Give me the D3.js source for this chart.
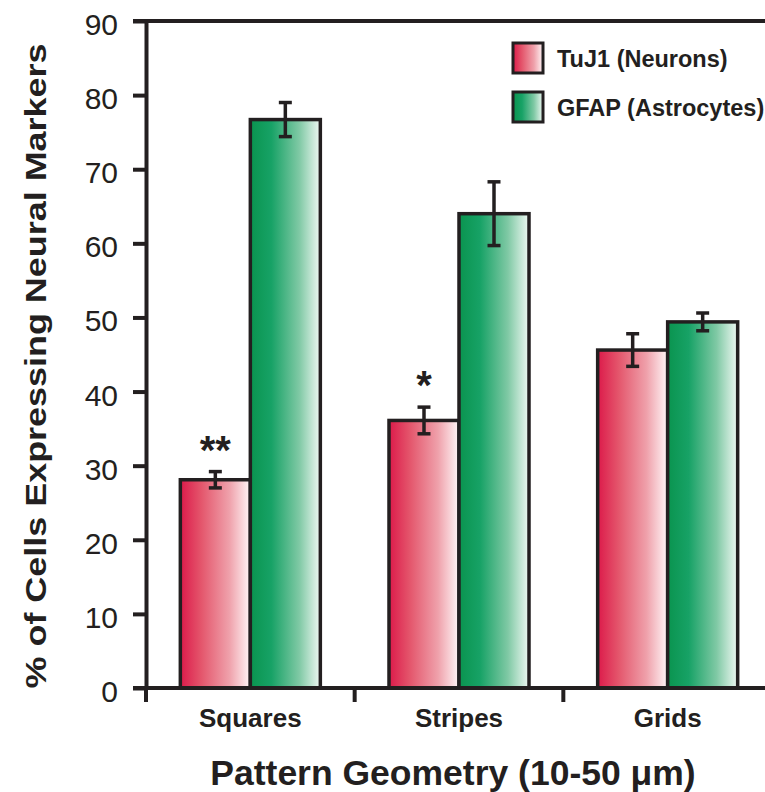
<!DOCTYPE html>
<html>
<head>
<meta charset="utf-8">
<script src="https://cdn.jsdelivr.net/npm/d3@7"></script>
<style>
  body { margin: 0; background: #fff; }
  svg { display: block; font-family: "Liberation Sans", Arial, Helvetica, sans-serif; }
</style>
</head>
<body>
<div id="chart"></div>
<script>
// data
const categories = ['Squares', 'Stripes', 'Grids'];
const seriesNames = ['TuJ1 (Neurons)', 'GFAP (Astrocytes)'];
const tuj1Values = [28.1, 36.1, 45.6];
const tuj1Errors = [1.1, 1.8, 2.2];
const gfapValues = [76.7, 64.0, 49.4];
const gfapErrors = [2.3, 4.3, 1.2];
const significance = ['**', '*', ''];
const yTicks = [0, 10, 20, 30, 40, 50, 60, 70, 80, 90];

const dims = {
    'width': 765,
    'height': 792,
    'left': 146,
    'top': 21,
    'bottom': 688
};
const ink = '#231f20';

const rows = categories.map((c, i) => ({
    cat: c,
    sig: significance[i],
    bars: [
        {key: 'tuj1', value: tuj1Values[i], err: tuj1Errors[i]},
        {key: 'gfap', value: gfapValues[i], err: gfapErrors[i]}
    ]
}));

const svg = d3.select('#chart')
                .append('svg')
                .attr('width', dims.width)
                .attr('height', dims.height);

// gradients, saturated on the left fading to white
const defs = svg.append('defs');
const gradStops = {
    'tuj1': [[0, '#dc1a4a'], [0.3, '#e4566c'], [0.7, '#efa1ab'], [1, '#fff6f7']],
    'gfap': [[0, '#0a944f'], [0.3, '#17a266'], [0.7, '#80c9a5'], [1, '#eff8f3']]
};
Object.keys(gradStops).forEach(k => {
    const g = defs.append('linearGradient')
                .attr('id', 'grad-' + k)
                .attr('x1', '0%').attr('x2', '100%')
                .attr('y1', '0%').attr('y2', '0%');
    gradStops[k].forEach(s => {
        g.append('stop').attr('offset', s[0]).attr('stop-color', s[1]);
    });
});

const y = d3.scaleLinear().domain([0, 90]).range([dims.bottom, dims.top]);
const x = d3.scaleBand().domain(categories).range([dims.left, 772]);
const xSub = d3.scaleBand().domain(['tuj1', 'gfap']).range([0, 140]);

// bars
const groups = svg.selectAll('.grp')
    .data(rows)
    .enter()
    .append('g')
    .attr('class', 'grp')
    .attr('transform', d => `translate(${x(d.cat) + x.bandwidth()/2 - 70},0)`);

groups.selectAll('.bar')
    .data(d => d.bars)
    .enter()
    .append('rect')
    .attr('class', 'bar')
    .attr('x', d => xSub(d.key))
    .attr('width', xSub.bandwidth())
    .attr('y', d => y(d.value))
    .attr('height', d => y(0) - y(d.value))
    .attr('fill', d => `url(#grad-${d.key})`)
    .attr('stroke', ink)
    .attr('stroke-width', 3.5);

// error bars
const capHalf = 6.5;
const errs = groups.selectAll('.err')
    .data(d => d.bars)
    .enter()
    .append('g')
    .attr('class', 'err')
    .attr('transform', d => `translate(${xSub(d.key) + xSub.bandwidth()/2},0)`);

errs.append('line')
    .attr('y1', d => y(d.value + d.err))
    .attr('y2', d => y(d.value - d.err));
errs.append('line')
    .attr('x1', -capHalf).attr('x2', capHalf)
    .attr('y1', d => y(d.value + d.err))
    .attr('y2', d => y(d.value + d.err));
errs.append('line')
    .attr('x1', -capHalf).attr('x2', capHalf)
    .attr('y1', d => y(d.value - d.err))
    .attr('y2', d => y(d.value - d.err));
errs.selectAll('line')
    .attr('stroke', ink)
    .attr('stroke-width', 3.5);

// significance stars over the TuJ1 bar
groups.append('text')
    .text(d => d.sig)
    .attr('x', xSub('tuj1') + xSub.bandwidth()/2)
    .attr('y', d => y(d.bars[0].value + d.bars[0].err) - 8)
    .attr('text-anchor', 'middle')
    .attr('font-size', 40)
    .attr('font-weight', 'bold')
    .attr('fill', ink);

// y axis
const yAxis = svg.append('g')
    .attr('class', 'y-axis')
    .attr('transform', `translate(${dims.left},0)`)
    .call(d3.axisLeft(y).tickValues(yTicks).tickSize(13).tickSizeOuter(0).tickPadding(15));
yAxis.select('.domain').attr('stroke', ink).attr('stroke-width', 4);
yAxis.selectAll('.tick line').attr('stroke', ink).attr('stroke-width', 4);
yAxis.selectAll('.tick text')
    .attr('font-size', 30)
    .attr('font-family', '"Liberation Sans", Arial, sans-serif')
    .attr('dy', '0.45em')
    .attr('fill', ink);

// top frame line and baseline run to the right edge
svg.append('line')
    .attr('x1', dims.left - 13).attr('x2', dims.width)
    .attr('y1', y(90)).attr('y2', y(90))
    .attr('stroke', ink).attr('stroke-width', 4);

// x axis: ticks sit between the groups
const xAxis = svg.append('g')
    .attr('class', 'x-axis')
    .attr('transform', `translate(0,${y(0)})`);
xAxis.append('line')
    .attr('x1', dims.left - 13).attr('x2', dims.width)
    .attr('stroke', ink).attr('stroke-width', 4);
xAxis.selectAll('.xtick')
    .data(categories)
    .enter()
    .append('line')
    .attr('class', 'xtick')
    .attr('x1', d => x(d)).attr('x2', d => x(d))
    .attr('y1', 0).attr('y2', 14)
    .attr('stroke', ink).attr('stroke-width', 4);
xAxis.selectAll('.xlabel')
    .data(categories)
    .enter()
    .append('text')
    .attr('class', 'xlabel')
    .text(d => d)
    .attr('x', d => x(d) + x.bandwidth()/2)
    .attr('y', 39)
    .attr('text-anchor', 'middle')
    .attr('font-size', 26)
    .attr('font-weight', 'bold')
    .attr('fill', ink);

// axis titles
svg.append('text')
    .text('Pattern Geometry (10-50 \u03bcm)')
    .attr('x', 453)
    .attr('y', 785)
    .attr('text-anchor', 'middle')
    .attr('font-size', 35.5)
    .attr('font-weight', 'bold')
    .attr('fill', ink);

svg.append('text')
    .text('% of Cells Expressing Neural Markers')
    .attr('transform', 'translate(46,366) rotate(-90)')
    .attr('text-anchor', 'middle')
    .attr('font-size', 29)
    .attr('font-weight', 'bold')
    .attr('textLength', 645)
    .attr('lengthAdjust', 'spacingAndGlyphs')
    .attr('fill', ink);

// legend
const legend = svg.append('g')
    .attr('class', 'legend')
    .attr('transform', 'translate(513,43)');
const legendItems = legend.selectAll('.item')
    .data(['tuj1', 'gfap'])
    .enter()
    .append('g')
    .attr('class', 'item')
    .attr('transform', (_, i) => `translate(0,${i*49})`);
legendItems.append('rect')
    .attr('width', 30)
    .attr('height', 30)
    .attr('fill', d => `url(#grad-${d})`)
    .attr('stroke', ink)
    .attr('stroke-width', 3);
legendItems.append('text')
    .text((_, i) => seriesNames[i])
    .attr('x', 44)
    .attr('y', 24)
    .attr('font-size', 23.5)
    .attr('font-weight', 'bold')
    .attr('fill', ink);
</script>
</body>
</html>
